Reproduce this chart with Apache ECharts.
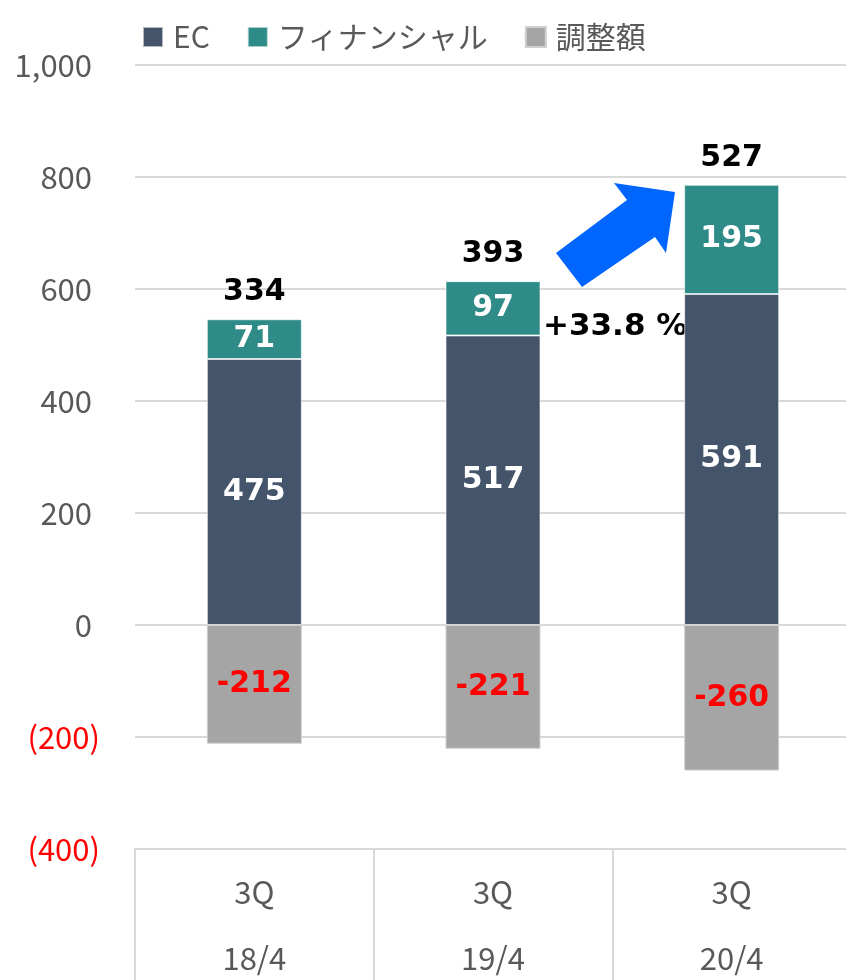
<!DOCTYPE html>
<html>
<head>
<meta charset="utf-8">
<script src="https://cdn.jsdelivr.net/npm/echarts@6/dist/echarts.min.js"></script>
<style>
  html, body { margin: 0; padding: 0; background: #fff; }
  #chart { width: 846px; height: 980px; }
</style>
</head>
<body>
<div id="chart"></div>
<script>
// データ
var categories = ['3Q\n18/4', '3Q\n19/4', '3Q\n20/4'];
var ecValues = [475, 517, 591];
var finValues = [71, 97, 195];
var adjValues = [-212, -221, -260];
var totals = [334, 393, 527];
var growthText = '+33.8 %';

var boldFont = 'DejaVu Sans';
var jpFont = 'Noto Sans CJK JP';
var grey = '#595959';

// 合計ラベルの位置 (EC + フィナンシャル の上端)
var topPoints = ecValues.map(function (v, i) { return v + finValues[i]; });

function fmtNum(v) {
    return String(v).replace(/\B(?=(\d{3})+(?!\d))/g, ',');
}

var chart = echarts.init(document.getElementById('chart'));

var option = {
    animation: false,
    legend: {
        data: ['EC', 'フィナンシャル', '調整額'],
        left: 137,
        top: 17,
        icon: 'rect',
        itemWidth: 20,
        itemHeight: 20,
        itemGap: 37,
        textStyle: {
            fontFamily: jpFont,
            fontSize: 30,
            lineHeight: 30,
            color: grey,
            padding: [0, 0, 0, 5]
        }
    },
    grid: {
        left: 135,
        right: -5,
        top: 65,
        bottom: 131,
        outerBoundsMode: 'none',
        containLabel: false
    },
    xAxis: {
        type: 'category',
        data: categories,
        axisLine: { show: true, onZero: false, lineStyle: { color: '#d9d9d9', width: 2 } },
        axisTick: { show: true, length: 131, interval: 0, lineStyle: { color: '#d9d9d9', width: 2 } },
        axisLabel: {
            interval: 0,
            margin: 10,
            fontFamily: jpFont,
            fontSize: 31,
            lineHeight: 66,
            color: grey
        }
    },
    yAxis: {
        type: 'value',
        min: -400,
        max: 1000,
        interval: 200,
        axisLine: { show: false },
        axisTick: { show: false },
        splitLine: { lineStyle: { color: '#d9d9d9', width: 2 } },
        axisLabel: {
            margin: 35,
            formatter: function (v) {
                if (v < 0) return '{neg|(' + fmtNum(-v) + ')}';
                return '{pos|' + fmtNum(v) + '}';
            },
            rich: {
                pos: { fontFamily: jpFont, fontSize: 31, color: grey, padding: [0, 8, 0, 0] },
                neg: { fontFamily: jpFont, fontSize: 31, color: '#ff0000' }
            }
        }
    },
    series: [
        {
            name: 'EC',
            type: 'bar',
            stack: 'total',
            barWidth: 95,
            data: ecValues,
            itemStyle: { color: '#44546a', borderColor: 'rgba(255,255,255,0.6)', borderWidth: 1 },
            label: {
                show: true, position: 'inside', color: '#fff',
                fontFamily: boldFont, fontWeight: 'bold', fontSize: 30
            }
        },
        {
            name: 'フィナンシャル',
            type: 'bar',
            stack: 'total',
            barWidth: 95,
            data: finValues,
            itemStyle: { color: '#2e8b87', borderColor: 'rgba(255,255,255,0.6)', borderWidth: 1 },
            label: {
                show: true, position: 'inside', color: '#fff',
                fontFamily: boldFont, fontWeight: 'bold', fontSize: 30
            }
        },
        {
            name: '調整額',
            type: 'bar',
            stack: 'total',
            barWidth: 95,
            data: adjValues,
            itemStyle: { color: '#a5a5a5', borderColor: '#d0d0d0', borderWidth: 1 },
            label: {
                show: true, position: 'inside', color: '#ff0000',
                fontFamily: boldFont, fontWeight: 'bold', fontSize: 30
            }
        },
        {
            name: 'total',
            type: 'scatter',
            symbolSize: 0,
            silent: true,
            data: topPoints,
            itemStyle: { opacity: 1 },
            label: {
                show: true,
                position: 'top',
                distance: 12,
                color: '#000000',
                fontFamily: boldFont,
                fontWeight: 'bold',
                fontSize: 30,
                formatter: function (p) { return totals[p.dataIndex]; }
            }
        }
    ],
    graphic: [
        {
            type: 'polygon',
            shape: {
                points: [[556, 253], [627, 200], [614, 183], [675, 192], [666, 253], [655, 237], [582, 287]]
            },
            style: { fill: '#0066ff' }
        },
        {
            type: 'text',
            left: 543,
            top: 311,
            style: {
                text: growthText,
                fill: '#000',
                font: 'bold 31px "DejaVu Sans"'
            }
        }
    ]
};

chart.setOption(option);
</script>
</body>
</html>
